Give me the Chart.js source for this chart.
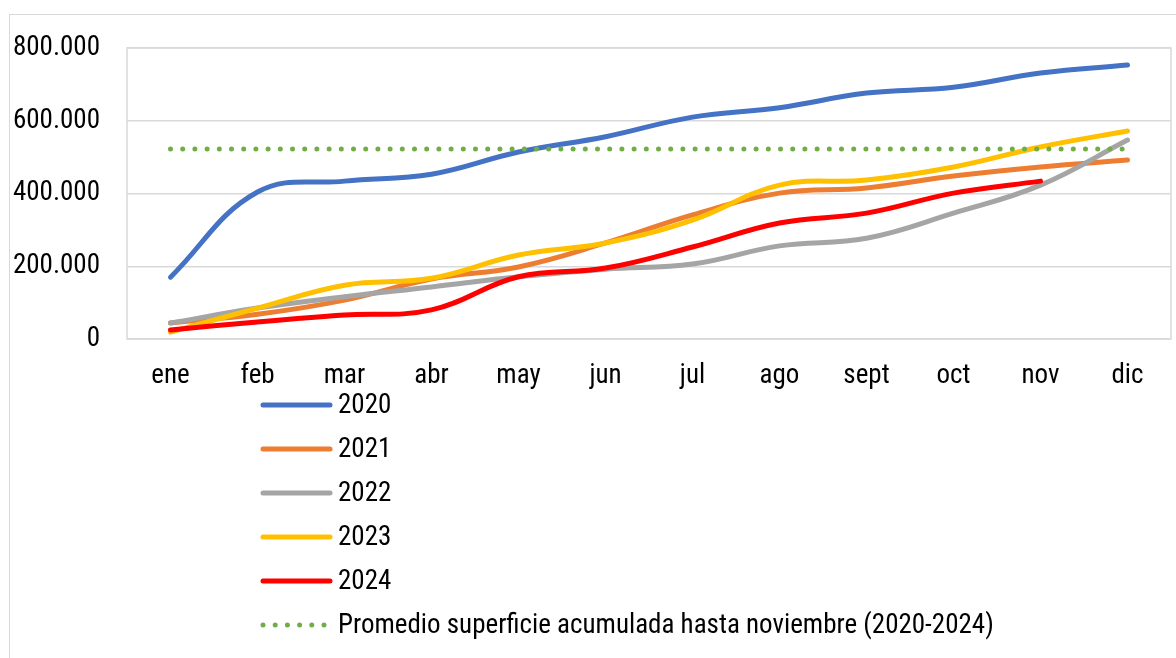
<!DOCTYPE html>
<html>
<head>
<meta charset="utf-8">
<script src="https://cdn.jsdelivr.net/npm/chart.js@4"></script>
<style>
  html, body { margin: 0; padding: 0; background: #fff; }
  #wrap { position: relative; width: 1176px; height: 658px; overflow: hidden; }
  #frame { position: absolute; left: 9px; top: 14px; width: 1200px; height: 700px; border: 1px solid #d9d9d9; }
  canvas { position: absolute; left: 0; top: 0; }
</style>
</head>
<body>
<div id="wrap">
  <div id="frame"></div>
  <canvas id="chart" width="1176" height="658"></canvas>
</div>
<script>
const meses = ['ene', 'feb', 'mar', 'abr', 'may', 'jun', 'jul', 'ago', 'sept', 'oct', 'nov', 'dic'];
const yTicks = [0, 200000, 400000, 600000, 800000];

const serie2020 = [170000, 404000, 434000, 453000, 514000, 556000, 610000, 636000, 676000, 692000, 731000, 753000];
const serie2021 = [44000, 68000, 107000, 165000, 198000, 264000, 341000, 401000, 415000, 448000, 473000, 492000];
const serie2022 = [44000, 85000, 116000, 143000, 171000, 192000, 206000, 256000, 277000, 346000, 423000, 547000];
const serie2023 = [19000, 85000, 148000, 167000, 231000, 264000, 327000, 423000, 437000, 473000, 528000, 572000];
const serie2024 = [25000, 47000, 66000, 80000, 171000, 195000, 253000, 319000, 346000, 401000, 434000, null];
const promedio = [522000, 522000, 522000, 522000, 522000, 522000, 522000, 522000, 522000, 522000, 522000, 522000];

const FONT = "'Roboto Condensed', 'Liberation Sans Narrow', 'Arial Narrow', sans-serif";
const FONT_SIZE = 27;

// border of the plot area on all four sides
const plotBorder = {
    id: 'plotBorder',
    beforeDatasetsDraw(chart) {
        const { ctx, chartArea: a } = chart;
        ctx.save();
        ctx.strokeStyle = '#d9d9d9';
        ctx.lineWidth = 1.5;
        ctx.strokeRect(a.left, a.top, a.right - a.left, a.bottom - a.top);
        ctx.restore();
    }
};

// vertical legend under the x axis, like the Excel one
const listLegend = {
    id: 'listLegend',
    afterDraw(chart) {
        const { ctx, chartArea } = chart;
        const x0 = 261, len = 71, textX = 338, step = 44;
        let y = chartArea.bottom + 66;
        ctx.save();
        ctx.font = FONT_SIZE + 'px ' + FONT;
        ctx.textBaseline = 'middle';
        chart.data.datasets.forEach(ds => {
            ctx.beginPath();
            ctx.strokeStyle = ds.borderColor;
            ctx.lineWidth = ds.borderDash ? 5 : 5;
            ctx.lineCap = 'round';
            ctx.setLineDash(ds.borderDash || []);
            ctx.moveTo(x0 + 2, y);
            ctx.lineTo(ds.borderDash ? x0 + 66 : x0 + len - 2, y);
            ctx.stroke();
            ctx.fillStyle = '#000';
            ctx.fillText(ds.label, textX, y + 1);
            y += step;
        });
        ctx.restore();
    }
};

function serie(label, data, color, order) {
    return {
        label, data, order,
        borderColor: color, backgroundColor: color,
        borderWidth: 5, tension: 0.4,
        borderCapStyle: 'round', borderJoinStyle: 'round',
        pointRadius: 0, fill: false
    };
}

new Chart(document.getElementById('chart'), {
    type: 'line',
    data: {
        labels: meses,
        datasets: [
            serie('2020', serie2020, '#4472c4', 5),
            serie('2021', serie2021, '#ed7d31', 4),
            serie('2022', serie2022, '#a5a5a5', 3),
            serie('2023', serie2023, '#ffc000', 2),
            serie('2024', serie2024, '#ff0000', 1),
            {
                label: 'Promedio superficie acumulada hasta noviembre (2020-2024)',
                data: promedio, order: 0,
                borderColor: '#70ad47', backgroundColor: '#70ad47',
                borderWidth: 5, borderDash: [0, 12.2], borderCapStyle: 'round',
                pointRadius: 0, fill: false, tension: 0
            }
        ]
    },
    options: {
        responsive: false,
        animation: false,
        layout: { padding: { top: 48, right: 5, bottom: 259, left: 0 } },
        plugins: {
            legend: { display: false },
            tooltip: { enabled: false }
        },
        scales: {
            x: {
                offset: true,
                grid: { display: false, drawTicks: false },
                border: { display: false },
                ticks: { color: '#000', font: { family: FONT, size: FONT_SIZE }, padding: 21, maxRotation: 0 },
                afterFit(scale) { scale.height = 60; }
            },
            y: {
                min: 0, max: 800000,
                afterBuildTicks(scale) { scale.ticks = yTicks.map(v => ({ value: v })); },
                grid: { color: '#d9d9d9', lineWidth: 1.5, drawTicks: false },
                border: { display: false },
                ticks: {
                    color: '#000', font: { family: FONT, size: FONT_SIZE }, padding: 27,
                    callback: v => v.toString().replace(/\B(?=(\d{3})+(?!\d))/g, '.')
                },
                afterFit(scale) { scale.width = 127; }
            }
        }
    },
    plugins: [plotBorder, listLegend]
});
</script>
</body>
</html>
